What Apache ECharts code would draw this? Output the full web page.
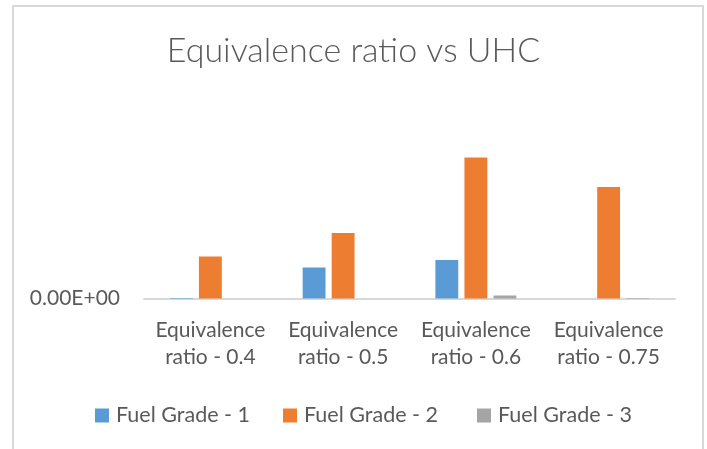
<!DOCTYPE html>
<html><head><meta charset="utf-8">
<script src="https://cdn.jsdelivr.net/npm/echarts@6/dist/echarts.min.js"></script>
<style>html,body{margin:0;padding:0;background:#fff}#c{width:707px;height:449px}</style>
</head><body><div id="c"></div>
<script>
var titleText = 'Equivalence ratio vs UHC';
var categories = ['Equivalence\nratio - 0.4', 'Equivalence\nratio - 0.5', 'Equivalence\nratio - 0.6', 'Equivalence\nratio - 0.75'];
var fuelGrade1 = [0.5, 31, 38.5, 0];
var fuelGrade2 = [42, 65.5, 141, 111.5];
var fuelGrade3 = [0, 0, 3, 0.5];
var seriesNames = ['Fuel Grade - 1', 'Fuel Grade - 2', 'Fuel Grade - 3'];
var yTickLabels = ['0.00E+00'];

var font = 'Lato';
var legendLefts = [95, 283, 477];
var legends = seriesNames.map(function (n, i) {
  return { top: 404.5, left: legendLefts[i], padding: 0, itemWidth: 14, itemHeight: 14, icon: 'rect',
    textStyle: { fontFamily: font, fontSize: 21.5, color: '#595959', padding: [0, 0, 0, 2] },
    data: [n] };
});
var chart = echarts.init(document.getElementById('c'));
chart.setOption({
  animation: false,
  title: { text: titleText, left: 'center', top: 29.5,
    textStyle: { fontFamily: font, fontWeight: 300, fontSize: 34, color: '#595959' } },
  graphic: [
    { type: 'rect', shape: { x: 13, y: 6, width: 690, height: 460 },
      style: { fill: 'none', stroke: '#d9d9d9', lineWidth: 2 }, silent: true }
  ],
  legend: legends,
  grid: { left: 144, right: 32, top: 98.5, bottom: 150.5 },
  xAxis: { type: 'category', data: categories,
    axisLine: { lineStyle: { color: '#d9d9d9', width: 2 } }, axisTick: { show: false },
    axisLabel: { interval: 0, fontFamily: font, fontSize: 21, color: '#595959', lineHeight: 27, margin: 18 } },
  yAxis: { type: 'value', min: 0, max: 200, interval: 200, splitLine: { show: false },
    axisLine: { show: false }, axisTick: { show: false },
    axisLabel: { fontFamily: font, fontSize: 21, color: '#595959', margin: 24,
      formatter: function (v) { return v === 0 ? yTickLabels[0] : ''; } } },
  series: [
    { name: seriesNames[0], type: 'bar', data: fuelGrade1, itemStyle: { color: '#5b9bd5' }, barGap: '27%', barCategoryGap: '39%' },
    { name: seriesNames[1], type: 'bar', data: fuelGrade2, itemStyle: { color: '#ed7d31' } },
    { name: seriesNames[2], type: 'bar', data: fuelGrade3, itemStyle: { color: '#a5a5a5' } }
  ]
});
</script></body></html>
